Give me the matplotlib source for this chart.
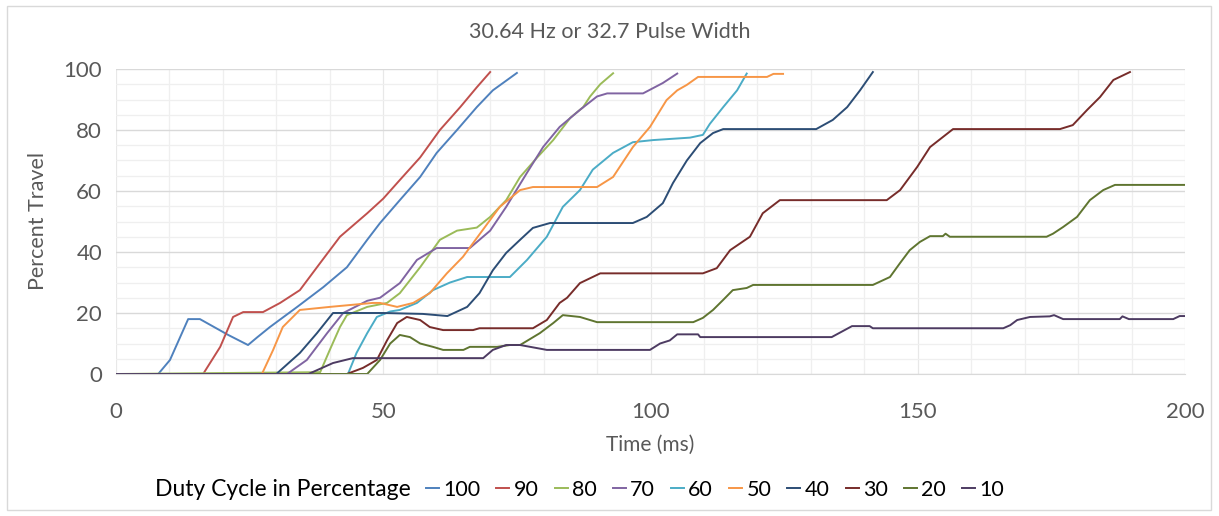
import matplotlib
matplotlib.use('Agg')
import matplotlib.pyplot as plt
from matplotlib.patches import Rectangle
from matplotlib.ticker import MultipleLocator

plt.rcParams['font.family'] = ['Lato', 'DejaVu Sans']

# travel traces, time in ms and travel in percent
t_100 = [0, 7.9, 10.1, 13.5, 15.7, 21, 24.7, 26.4, 28.8, 33.9, 38.8, 43.2, 47, 49.4, 53.1, 56.9, 60, 63.8, 67.5, 70.5, 75]
v_100 = [0, 0, 4.6, 18, 18, 12.8, 9.5, 12, 15.4, 22, 28.5, 35, 44, 49.5, 57, 64.6, 72.5, 80, 87.5, 93, 98.7]

t_90 = [0, 16.3, 19.5, 21.9, 23.8, 27.5, 30.7, 34.4, 38.2, 41.9, 47, 50, 53.1, 56.9, 60.6, 64.4, 67.5, 70]
v_90 = [0, 0, 8.9, 18.7, 20.3, 20.3, 23.3, 27.5, 36.4, 45, 52.7, 57.5, 63.6, 71, 80, 87.5, 94, 99]

t_80 = [0, 38.2, 40, 41.9, 43.2, 47, 50.7, 53.1, 56.9, 60.6, 63.8, 67.5, 70, 73, 75.6, 78.8, 81.8, 85, 87.4, 88.7, 90.6, 93]
v_80 = [0, 0.6, 7.9, 15.4, 19.3, 22, 23.3, 26.5, 35, 44, 47, 48, 51.5, 57, 64.6, 71, 76.7, 84, 87.5, 91, 95, 98.6]

t_70 = [0, 32, 35.7, 39.5, 42.5, 47, 49.4, 53.1, 56.3, 60, 66.2, 70, 73, 76.9, 79.9, 83, 86.8, 90, 91.9, 98.6, 102.3, 105]
v_70 = [0, 0, 4.6, 13.4, 20, 24, 25, 29.8, 37.4, 41.3, 41.3, 47, 54.8, 66, 74.4, 81, 86.6, 91, 92, 92, 95.4, 98.5]

t_60 = [0, 43.4, 45, 47, 48.8, 51.3, 53.1, 56.3, 59.3, 62.5, 65.7, 73.7, 76.9, 80.6, 83.6, 86.8, 89.2, 93, 96.7,
        100.5, 107.4, 109.8, 111.1, 113.6, 116.2, 118]
v_60 = [0, 0, 6.9, 13.4, 18.7, 20.5, 21, 23.3, 27.5, 30, 31.8, 31.8, 37.4, 45, 54.8, 60.3, 67, 72.5, 76,
        76.7, 77.5, 78.4, 82, 87.5, 93, 98.5]

t_50 = [0, 27.3, 29.4, 31.2, 34.4, 40, 48, 49.4, 52.6, 55.6, 58.7, 61.9, 64.9, 68.1, 71.8, 75.6, 78, 90, 93, 96.7,
        99.9, 103, 105, 106.8, 108.9, 121.8, 123, 124.8]
v_50 = [0, 0, 7.9, 15.4, 21, 22, 23.3, 23.3, 22, 23.3, 26.5, 33, 38.4, 46, 54.8, 60.3, 61.3, 61.3, 64.6, 74.4,
        81, 89.8, 93, 94.8, 97.4, 97.4, 98.4, 98.4]

t_40 = [0, 30, 34.4, 37.6, 40.6, 50, 57.4, 62, 65.7, 68, 70.5, 73, 75.6, 78, 81.2, 96.7, 99.3, 102.3, 104.2,
        106.8, 109.3, 111.7, 113.6, 131, 134.1, 136.8, 139.2, 141.6]
v_40 = [0, 0, 6.9, 13.4, 20, 20, 19.7, 19, 22, 26.5, 34, 39.7, 44, 47.9, 49.5, 49.5, 51.5, 56, 62.6,
        70, 75.7, 79, 80.3, 80.3, 83.3, 87.5, 93, 99]

t_30 = [0, 43.2, 46.2, 48.8, 50.7, 52.6, 54.4, 56.9, 58.7, 61.2, 66.8, 68, 78, 80.6, 83, 84.4, 86.8, 90.6,
        109.8, 112.4, 114.9, 118.6, 121, 124.2, 144.2, 146.7, 149.9, 152.3, 156.6, 176.6, 179, 181.7, 184.1,
        186.6, 189.7]
v_30 = [0, 0, 2, 4.6, 11, 16.7, 18.7, 17.7, 15.4, 14.4, 14.4, 15, 15, 17.7, 23.3, 25, 29.8, 33,
        33, 34.7, 40.6, 45, 52.7, 57, 57, 60.3, 67.9, 74.4, 80.3, 80.3, 81.6, 86.6, 90.8,
        96.4, 99]

t_20 = [0, 47, 49.4, 51.3, 53.1, 55, 56.9, 59.3, 61.2, 65, 66.2, 71.3, 73.7, 75.6, 79.3, 81.8, 83.6, 86.8, 90,
        108, 109.8, 111.7, 113.6, 115.4, 118, 119.2, 141.6, 144.8, 146.7, 148.5, 150.4, 152.3, 154.7, 155.2,
        156, 174.1, 175.3, 177.2, 179.8, 182.2, 184.7, 186.9, 200]
v_20 = [0, 0, 4.6, 10, 12.8, 12.1, 10, 8.9, 7.9, 7.9, 8.9, 8.9, 9.5, 9.5, 13.4, 16.7, 19.3, 18.7, 17,
        17, 18.4, 21, 24.3, 27.5, 28.2, 29.2, 29.2, 31.8, 36.4, 40.6, 43.3, 45.2, 45.2, 46,
        45, 45, 46, 48.2, 51.5, 57, 60.3, 62, 62]

t_10 = [0, 36, 40.6, 44.3, 68.7, 70.5, 73, 75.6, 77.5, 80.6, 99.9, 101.8, 103.6, 105, 108.9, 109.3, 133.9,
        137.7, 141, 141.6, 166, 167.3, 168.6, 171, 174.7, 175.5, 177.2, 187.8, 188.3, 189.5, 197.8, 199, 200]
v_10 = [0, 0, 3.6, 5.2, 5.2, 7.9, 9.5, 9.5, 8.9, 7.9, 7.9, 10, 11, 13, 13, 12.1, 12.1,
        15.7, 15.7, 15, 15, 16, 17.7, 18.7, 18.9, 19.3, 18, 18, 18.9, 18, 18, 19, 19]

labels = ['100', '90', '80', '70', '60', '50', '40', '30', '20', '10']
times = [t_100, t_90, t_80, t_70, t_60, t_50, t_40, t_30, t_20, t_10]
travel = [v_100, v_90, v_80, v_70, v_60, v_50, v_40, v_30, v_20, v_10]
colors = ['#4F81BD', '#C0504D', '#9BBB59', '#8064A2', '#4BACC6',
          '#F79646', '#2C4D75', '#772C2A', '#5F7530', '#4D3B62']

fig = plt.figure(figsize=(12.19, 5.16), dpi=100)
ax = fig.add_axes([116 / 1219, 1 - 374 / 516, 1069 / 1219, 305 / 516])

for t, v, c, lab in zip(times, travel, colors, labels):
    ax.plot(t, v, color=c, lw=1.4, label=lab)

ax.set_xlim(0, 200)
ax.set_ylim(0, 100)
ax.xaxis.set_major_locator(MultipleLocator(50))
ax.xaxis.set_minor_locator(MultipleLocator(10))
ax.yaxis.set_major_locator(MultipleLocator(20))
ax.yaxis.set_minor_locator(MultipleLocator(5))
ax.grid(which='major', axis='y', color='#D9D9D9', lw=1.0)
ax.grid(which='major', axis='x', color='#E8E8E8', lw=0.9)
ax.grid(which='minor', color='#EFEFEF', lw=0.9)
ax.set_axisbelow(True)
for side in ['top', 'right', 'left']:
    ax.spines[side].set_visible(False)
ax.spines['bottom'].set_color('#D9D9D9')
ax.tick_params(which='both', length=0, labelsize=16, labelcolor='#595959')
ax.tick_params(axis='x', pad=20)
ax.tick_params(axis='y', pad=10)

ax.set_xlabel('Time (ms)', fontsize=15, color='#595959')
ax.xaxis.set_label_coords(0.5, -0.2)
ax.set_ylabel('Percent Travel', fontsize=15.5, color='#595959')
ax.yaxis.set_label_coords(-0.064, 0.5)

fig.text(0.5, 1 - 32 / 516, '30.64 Hz or 32.7 Pulse Width', ha='center', va='center',
         fontsize=15.5, color='#595959')

fig.text(155 / 1219, 1 - 490 / 516, 'Duty Cycle in Percentage', ha='left', va='center',
         fontsize=16.5, color='#000000')
fig.legend(loc='center left', bbox_to_anchor=(426 / 1219, 1 - 490 / 516), ncol=10, frameon=False,
           fontsize=15.5, handlelength=0.6, handletextpad=0.2, columnspacing=0.75, borderpad=0,
           borderaxespad=0)

fig.patches.append(Rectangle((7 / 1219, 6 / 516), 1204 / 1219, 504 / 516, transform=fig.transFigure,
                             fill=False, edgecolor='#D9D9D9', lw=1))

fig.savefig('out.png', dpi=100)
